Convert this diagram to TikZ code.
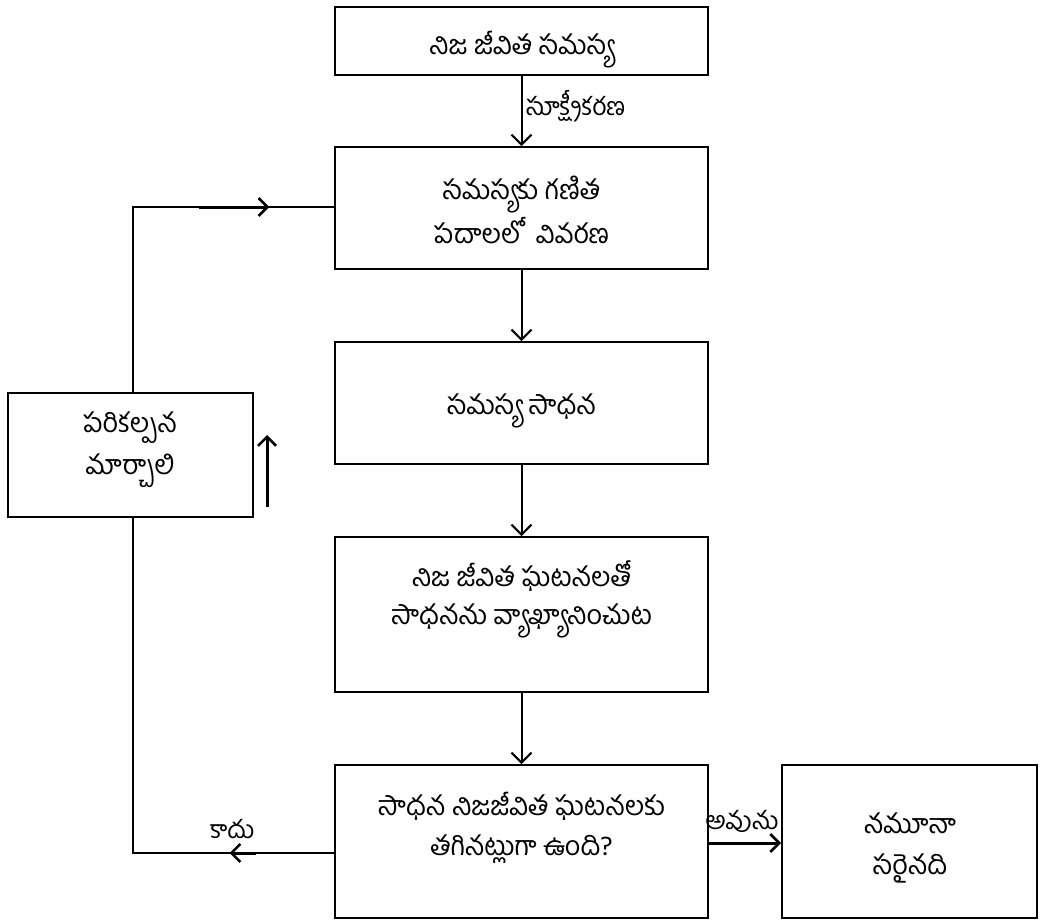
\documentclass[tikz,border=0pt]{standalone}
\usepackage{fontspec}
\newfontfamily\tel[Script=Telugu]{Hind Guntur}
\usetikzlibrary{arrows.meta,calc}
\begin{document}
\begin{tikzpicture}[x=1pt,y=-1pt,
  box/.style={draw,line width=1.7pt,minimum width=373pt,inner sep=0pt},
  txt/.style={inner sep=0pt,align=center,font=\tel\fontsize{27}{42}\selectfont},
  lbl/.style={inner sep=0pt,font=\tel\fontsize{25}{30}\selectfont},
  conn/.style={line width=2pt},
  arr/.style={line width=2pt,-{Straight Barb[length=10pt,width=20pt,line width=2.2pt]}},
  thick arr/.style={line width=3pt,-{Straight Barb[length=9pt,width=18pt,line width=2.6pt]}}]
\useasboundingbox (0,0) rectangle (1040,920);
% boxes
\node[box,minimum height=68pt] (b1) at (521.5,41) {};
\node[box,minimum height=122pt] (b2) at (521.5,208) {};
\node[box,minimum height=122pt] (b3) at (521.5,403) {};
\node[box,minimum height=155pt] (b4) at (521.5,614.5) {};
\node[box,minimum height=153pt] (b5) at (521.5,841.5) {};
\node[box,minimum width=255pt,minimum height=153pt] (b6) at (909.5,841.5) {};
\node[box,minimum width=245pt,minimum height=124pt] (lb) at (130.5,455) {};
% box texts
\node[txt] (b1t) at (521.5,50) {నిజ జీవిత సమస్య};
\node[txt,font=\tel\fontsize{27}{44}\selectfont] (b2t) at (521.5,210) {సమస్యకు గణిత\\పదాలలో\ \ వివరణ};
\node[txt] (b3t) at (521.5,411) {సమస్య సాధన};
\node[txt,font=\tel\fontsize{27}{38}\selectfont] (b4t) at (521.5,599) {నిజ జీవిత ఘటనలతో\\సాధనను వ్యాఖ్యానించుట};
\node[txt,font=\tel\fontsize{27}{40}\selectfont] (b5t) at (521.5,828) {సాధన నిజజీవిత ఘటనలకు\\తగినట్లుగా ఉంది?};
\node[txt,font=\tel\fontsize{27}{41}\selectfont] (b6t) at (910,848) {నమూనా\\సరైనది};
\node[txt] (lbt) at (130,450) {పరికల్పన\\మార్చాలి};
% labels
\node[lbl,anchor=west] (l1) at (526,106) {సూక్ష్మీకరణ};
\node[lbl] (l2) at (232,829) {కాదు};
\node[lbl] (l3) at (742,821) {అవును};
% vertical flow
\draw[arr] (b1) -- (b2);
\draw[arr] (b2) -- (b3);
\draw[arr] (b3) -- (b4);
\draw[arr] (b4) -- (b5);
\draw[thick arr] (b5.east |- 0,843) -- (b6.west |- 0,843);
% feedback loop
\coordinate (nl) at (133,853);
\coordinate (nt) at (133,207);
\coordinate (ns) at (b5.west |- nl);
\coordinate (ne) at (b2.west |- nt);
\draw[conn,line cap=rect] (ns) -- (nl) -- (nl |- lb.south);
\draw[conn,line cap=rect] (nl |- lb.north) -- (nt) -- (ne);
\draw[thick arr] ($(ns)!0.39!(nl)$) -- ($(ns)!0.52!(nl)$);
\draw[thick arr] ($(nt)!0.33!(ne)$) -- ($(nt)!0.678!(ne)$);
% free arrow
\coordinate (fa1) at (267,507);
\coordinate (fa2) at (267,435);
\draw[thick arr] (fa1) -- (fa2);
\end{tikzpicture}
\end{document}
